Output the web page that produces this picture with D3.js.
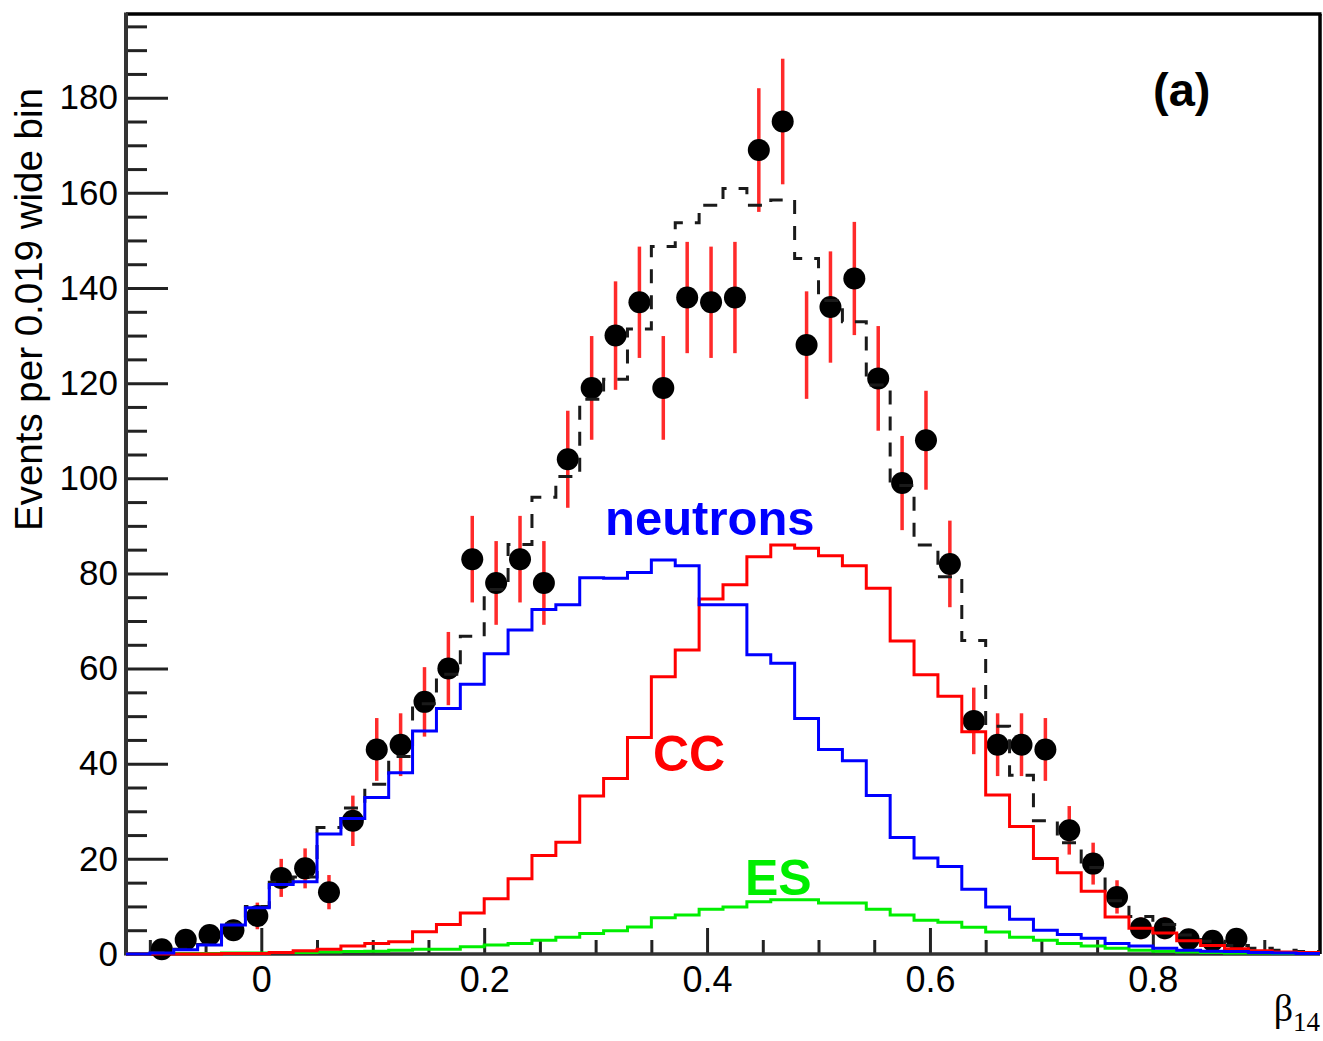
<!DOCTYPE html>
<html>
<head>
<meta charset="utf-8">
<title>beta14 distribution</title>
<script src="https://cdnjs.cloudflare.com/ajax/libs/d3/7.8.5/d3.min.js"></script>
<style>
    body { margin: 0; background: #fff; }
    #chart svg { display: block; }
</style>
</head>
<body>
<div id="chart"></div>
<script>
// Binning (beta14): 50 bins starting at bin_low
var bin_low     =   -0.1214;
var bin_width   =   0.021428;

// Data: events per bin (null = empty bin) and their error bars
var data_counts =   [ null, 1, 3, 4, 5, 8, 16, 18, 13, 28, 43, 44, 53, 60, 83, 78, 83, 78, 104, 119,
                      130, 137, 119, 138, 137, 138, 169, 175, 128, 136, 142, 121, 99, 108, 82, 49, 44, 44, 43, 26,
                      19, 12, 5.4, 5.4, 3.1, 2.8, 3.2, null, null, null ];
var data_errors =   [ null, 1.0, 1.7, 2.0, 2.2, 2.8, 4.0, 4.2, 3.6, 5.3, 6.6, 6.6, 7.3, 7.7, 9.1, 8.8, 9.1, 8.8, 10.2, 10.9,
                      11.4, 11.7, 10.9, 11.7, 11.7, 11.7, 13.0, 13.2, 11.3, 11.7, 11.9, 11.0, 9.9, 10.4, 9.1, 7.0, 6.6, 6.6, 6.6, 5.1,
                      4.4, 3.5, 2.3, 2.3, 1.8, 1.7, 1.8, null, null, null ];

// Fit components (per bin)
var total_fit   =   [ 0, 0.3, 1.0, 2.0, 6.4, 10.0, 15.1, 16.2, 26.6, 30.7, 35.7, 41.5, 52.6, 58.8, 66.8, 76.6, 86.1, 96.0, 100.4, 116.6,
                      120.8, 131.4, 148.7, 153.7, 157.4, 160.9, 157.4, 158.5, 146.2, 137.4, 132.9, 119.6, 98.5, 86.0, 79.3, 65.9, 47.9, 37.6, 28.0, 23.4,
                      18.2, 11.2, 7.9, 6.2, 4.0, 2.7, 1.8, 1.2, 0.8, 0.5 ];
var neutrons    =   [ 0.0, 0.2, 0.9, 1.9, 6.1, 9.7, 14.6, 15.2, 25.2, 28.5, 32.9, 38.1, 46.9, 51.6, 56.7, 63.1, 68.1, 72.4, 73.4, 79.1,
                      79.0, 80.2, 82.8, 81.6, 73.4, 73.4, 62.9, 61.1, 49.5, 43.0, 40.6, 33.3, 24.5, 20.2, 18.4, 13.6, 9.9, 7.3, 5.0, 4.1,
                      3.3, 2.2, 1.7, 1.2, 0.8, 0.6, 0.5, 0.3, 0.2, 0.1 ];
var cc          =   [ 0, 0, 0, 0, 0.1, 0.1, 0.3, 0.7, 1.0, 1.7, 2.2, 2.6, 4.7, 6.2, 8.6, 11.6, 15.8, 20.7, 23.5, 33.2,
                      36.9, 45.5, 58.3, 63.9, 74.6, 77.6, 83.5, 86.0, 85.3, 83.7, 81.6, 76.9, 65.8, 58.7, 54.2, 46.7, 33.4, 26.8, 20.1, 17.1,
                      13.2, 7.8, 5.4, 4.4, 2.8, 1.8, 1.1, 0.7, 0.4, 0.3 ];
var es          =   [ 0, 0.1, 0.1, 0.1, 0.2, 0.2, 0.3, 0.3, 0.4, 0.5, 0.6, 0.8, 1.0, 1.0, 1.5, 1.9, 2.2, 2.9, 3.5, 4.3,
                      4.9, 5.7, 7.6, 8.2, 9.4, 9.9, 11.0, 11.4, 11.4, 10.7, 10.7, 9.4, 8.2, 7.1, 6.7, 5.6, 4.6, 3.5, 2.9, 2.2,
                      1.7, 1.2, 0.8, 0.6, 0.4, 0.3, 0.2, 0.2, 0.1, 0.1 ];

// Tick values
var x_ticks     =   [ 0, 0.2, 0.4, 0.6, 0.8 ];
var x_minor     =   [ -0.1, -0.05, 0.05, 0.1, 0.15, 0.25, 0.3, 0.35, 0.45, 0.5, 0.55, 0.65, 0.7, 0.75, 0.85, 0.9 ];
var y_ticks     =   [ 0, 20, 40, 60, 80, 100, 120, 140, 160, 180 ];
var y_minor     =   [ 5, 10, 15, 25, 30, 35, 45, 50, 55, 65, 70, 75, 85, 90, 95, 105, 110, 115,
                      125, 130, 135, 145, 150, 155, 165, 170, 175, 185, 190, 195 ];
var y_max       =   197.6;

// Create SVG Element
var chart_width     =   1323;
var chart_height    =   1041;
var plot_left       =   126;
var plot_right      =   1320;
var plot_top        =   14;
var plot_bottom     =   954;
var sans            =   '"Liberation Sans", Arial, Helvetica, sans-serif';
var serif           =   '"Liberation Serif", "Times New Roman", serif';

var svg             =   d3.select( '#chart' )
    .append( 'svg' )
    .attr( 'width', chart_width )
    .attr( 'height', chart_height );

svg.append( 'rect' )
    .attr( 'width', chart_width )
    .attr( 'height', chart_height )
    .attr( 'fill', '#fff' );

// Scales
var n_bins  =   neutrons.length;
var x       =   d3.scaleLinear()
    .domain( [ bin_low, bin_low + n_bins * bin_width ] )
    .range( [ plot_left, plot_right ] );
var y       =   d3.scaleLinear()
    .domain( [ 0, y_max ] )
    .range( [ plot_bottom, plot_top ] );

var edges   =   d3.range( n_bins + 1 ).map(function( i ){ return bin_low + i * bin_width; });
var centers =   d3.range( n_bins ).map(function( i ){ return bin_low + ( i + 0.5 ) * bin_width; });

// Frame
svg.append( 'line' )
    .attr( 'x1', plot_left ).attr( 'x2', plot_right + 1.5 )
    .attr( 'y1', plot_top ).attr( 'y2', plot_top )
    .attr( 'stroke', '#000' ).attr( 'stroke-width', 3.5 );
svg.append( 'line' )
    .attr( 'x1', plot_right ).attr( 'x2', plot_right )
    .attr( 'y1', plot_top ).attr( 'y2', plot_bottom )
    .attr( 'stroke', '#000' ).attr( 'stroke-width', 3.5 );

// Axes
function styleAxis( g ){
    g.select( '.domain' ).remove();
    g.selectAll( '.tick line' )
        .attr( 'stroke', '#222' )
        .attr( 'stroke-width', 3 );
    g.selectAll( 'text' )
        .attr( 'fill', '#000' )
        .attr( 'font-family', sans );
}

svg.append( 'g' )
    .attr( 'transform', 'translate(' + plot_left + ',0)' )
    .call( d3.axisLeft( y ).tickValues( y_minor ).tickSize( -21 ).tickFormat( '' ) )
    .call( styleAxis );

svg.append( 'g' )
    .attr( 'transform', 'translate(' + plot_left + ',0)' )
    .call( d3.axisLeft( y ).tickValues( y_ticks ).tickSize( -42 ).tickPadding( 8 ).tickFormat( d3.format( 'd' ) ) )
    .call( styleAxis )
    .selectAll( 'text' )
    .attr( 'font-size', 35 );

svg.append( 'g' )
    .attr( 'transform', 'translate(0,' + plot_bottom + ')' )
    .call( d3.axisBottom( x ).tickValues( x_minor ).tickSize( -14 ).tickFormat( '' ) )
    .call( styleAxis );

svg.append( 'g' )
    .attr( 'transform', 'translate(0,' + plot_bottom + ')' )
    .call( d3.axisBottom( x ).tickValues( x_ticks ).tickSize( -26 ).tickPadding( 12 )
        .tickFormat(function( d ){ return d === 0 ? '0' : d3.format( '.1f' )( d ); }) )
    .call( styleAxis )
    .selectAll( 'text' )
    .attr( 'font-size', 36 );

// Axis lines
svg.append( 'line' )
    .attr( 'x1', plot_left ).attr( 'x2', plot_left )
    .attr( 'y1', plot_top - 1.5 ).attr( 'y2', plot_bottom + 1.5 )
    .attr( 'stroke', '#333' ).attr( 'stroke-width', 4 );
svg.append( 'line' )
    .attr( 'x1', plot_left ).attr( 'x2', plot_right )
    .attr( 'y1', plot_bottom ).attr( 'y2', plot_bottom )
    .attr( 'stroke', '#333' ).attr( 'stroke-width', 3.5 );

// Axis titles
svg.append( 'text' )
    .attr( 'transform', 'translate(42,88) rotate(-90)' )
    .attr( 'text-anchor', 'end' )
    .attr( 'font-family', sans )
    .attr( 'font-size', 38.5 )
    .text( 'Events per 0.019 wide bin' );

var x_title = svg.append( 'text' )
    .attr( 'x', plot_right )
    .attr( 'y', 1021 )
    .attr( 'text-anchor', 'end' )
    .attr( 'font-family', serif )
    .attr( 'font-size', 38 );
x_title.append( 'tspan' ).text( 'β' );
x_title.append( 'tspan' ).attr( 'font-size', 27 ).attr( 'dy', 10 ).text( '14' );

// Data points with error bars
var points = d3.range( n_bins )
    .filter(function( i ){ return data_counts[i] !== null; })
    .map(function( i ){ return { x: centers[i], v: data_counts[i], e: data_errors[i] }; });

svg.selectAll( 'line.err' )
    .data( points )
    .enter()
    .append( 'line' )
    .attr( 'class', 'err' )
    .attr( 'x1', function( d ){ return x( d.x ); } )
    .attr( 'x2', function( d ){ return x( d.x ); } )
    .attr( 'y1', function( d ){ return y( d.v - d.e ); } )
    .attr( 'y2', function( d ){ return y( d.v + d.e ); } )
    .attr( 'stroke', '#ff2a2a' )
    .attr( 'stroke-width', 3.5 );

svg.selectAll( 'circle' )
    .data( points )
    .enter()
    .append( 'circle' )
    .attr( 'cx', function( d ){ return x( d.x ); } )
    .attr( 'cy', function( d ){ return y( d.v ); } )
    .attr( 'r', 11 )
    .attr( 'fill', '#000' );

// Histograms
var step_line = d3.line()
    .x(function( d ){ return x( d[0] ); })
    .y(function( d ){ return y( d[1] ); })
    .curve( d3.curveStepAfter );

function stepPoints( values ){
    var pts = values.map(function( v, i ){ return [ edges[i], v ]; });
    pts.push( [ edges[ values.length ], values[ values.length - 1 ] ] );
    return pts;
}

var hists = [
    { values: total_fit, color: '#1a1a1a', dash: '14,12' },
    { values: es,        color: '#00ee00', dash: null },
    { values: cc,        color: '#ff0000', dash: null },
    { values: neutrons,  color: '#0000ff', dash: null }
];

svg.selectAll( 'path.hist' )
    .data( hists )
    .enter()
    .append( 'path' )
    .attr( 'class', 'hist' )
    .attr( 'd', function( d ){ return step_line( stepPoints( d.values ) ); } )
    .attr( 'fill', 'none' )
    .attr( 'stroke', function( d ){ return d.color; } )
    .attr( 'stroke-width', 3 )
    .attr( 'stroke-dasharray', function( d ){ return d.dash; } );

// Labels
svg.append( 'text' )
    .attr( 'x', 605 ).attr( 'y', 535 )
    .attr( 'font-family', sans ).attr( 'font-weight', 'bold' ).attr( 'font-size', 49 )
    .attr( 'fill', '#0000ff' )
    .text( 'neutrons' );

svg.append( 'text' )
    .attr( 'x', 653 ).attr( 'y', 771 )
    .attr( 'font-family', sans ).attr( 'font-weight', 'bold' ).attr( 'font-size', 50 )
    .attr( 'fill', '#ff0000' )
    .text( 'CC' );

svg.append( 'text' )
    .attr( 'x', 745 ).attr( 'y', 895 )
    .attr( 'font-family', sans ).attr( 'font-weight', 'bold' ).attr( 'font-size', 50 )
    .attr( 'fill', '#00ee00' )
    .text( 'ES' );

svg.append( 'text' )
    .attr( 'x', 1153 ).attr( 'y', 106 )
    .attr( 'font-family', sans ).attr( 'font-weight', 'bold' ).attr( 'font-size', 47 )
    .attr( 'fill', '#000' )
    .text( '(a)' );
</script>
</body>
</html>
